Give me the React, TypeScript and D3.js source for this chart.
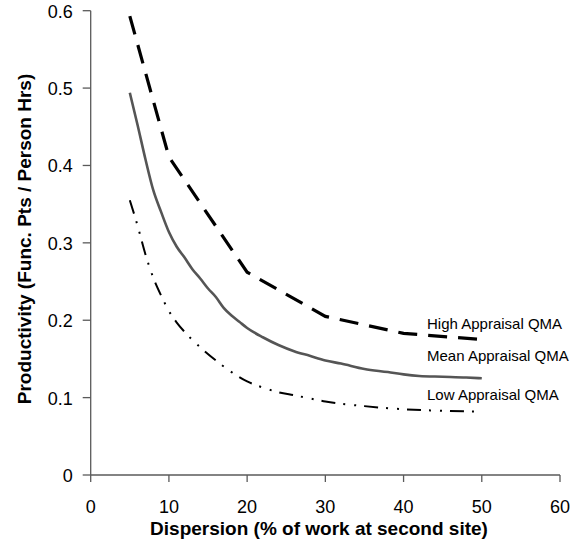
import React from "react";
import * as d3 from "d3";

const xTickValues = [0, 10, 20, 30, 40, 50, 60];
const xTickLabels = ["0", "10", "20", "30", "40", "50", "60"];
const yTickValues = [0, 0.1, 0.2, 0.3, 0.4, 0.5, 0.6];
const yTickLabels = ["0", "0.1", "0.2", "0.3", "0.4", "0.5", "0.6"];

const highX = [5, 10, 20, 30, 40, 50];
const highY = [0.593, 0.411, 0.262, 0.205, 0.183, 0.175];

const meanX = [5, 6, 7, 8, 9, 10, 11, 12, 13, 14, 15, 16, 17, 18, 19, 20, 22, 24, 26, 28, 30, 32, 35, 38, 40, 42, 45, 48, 50];
const meanY = [0.494, 0.452, 0.408, 0.368, 0.34, 0.314, 0.295, 0.281, 0.266, 0.254, 0.241, 0.23, 0.216, 0.206, 0.198, 0.19, 0.178, 0.168, 0.16, 0.154, 0.148, 0.144, 0.137, 0.133, 0.13, 0.128, 0.127, 0.126, 0.125];

const lowX = [5, 6, 7, 8, 9, 10, 11, 12, 14, 16, 18, 20, 22, 24, 26, 28, 30, 35, 40, 45, 50];
const lowY = [0.355, 0.322, 0.285, 0.255, 0.232, 0.212, 0.197, 0.185, 0.165, 0.148, 0.133, 0.121, 0.113, 0.107, 0.103, 0.099, 0.095, 0.089, 0.085, 0.083, 0.082];

const seriesLabels = ["High Appraisal QMA", "Mean Appraisal QMA", "Low Appraisal QMA"];
const labelX = [43, 43, 43];
const labelY = [0.189, 0.147, 0.097];

const xTitle = "Dispersion (% of work at second site)";
const yTitle = "Productivity (Func. Pts / Person Hrs)";

const W = 581;
const H = 541;
const FONT = "Arial, 'Liberation Sans', sans-serif";

export default function App() {
  const x = d3.scaleLinear().domain([0, 60]).range([90.7, 560]);
  const y = d3.scaleLinear().domain([0, 0.6]).range([475, 10.7]);

  const lineLinear = d3
    .line<[number, number]>()
    .x((d) => x(d[0]))
    .y((d) => y(d[1]));
  const lineSmooth = d3
    .line<[number, number]>()
    .x((d) => x(d[0]))
    .y((d) => y(d[1]))
    .curve(d3.curveMonotoneX);

  const high = highX.map((v, i) => [v, highY[i]] as [number, number]);
  const mean = meanX.map((v, i) => [v, meanY[i]] as [number, number]);
  const low = lowX.map((v, i) => [v, lowY[i]] as [number, number]);

  const axisColor = "#5a5a5a";
  const [x0, x1] = x.range();
  const [y0, y1] = y.range();

  return (
    <svg
      width={W}
      height={H}
      style={{ position: "absolute", left: 0, top: 0, background: "#fff" }}
      fontFamily={FONT}
    >
      {/* axes */}
      <line x1={x0} x2={x0} y1={y1} y2={y0} stroke={axisColor} strokeWidth={1.3} />
      <line x1={x0} x2={x1} y1={y0} y2={y0} stroke={axisColor} strokeWidth={1.3} />
      {yTickValues.map((v, i) => (
        <g key={"yt" + i}>
          <line x1={x0 - 8} x2={x0} y1={y(v)} y2={y(v)} stroke={axisColor} strokeWidth={1.3} />
          <text x={x0 - 18} y={y(v) + 7} textAnchor="end" fontSize={18} fill="#000">
            {yTickLabels[i]}
          </text>
        </g>
      ))}
      {xTickValues.map((v, i) => (
        <g key={"xt" + i}>
          <line x1={x(v)} x2={x(v)} y1={y0} y2={y0 + 7} stroke={axisColor} strokeWidth={1.3} />
          <text x={x(v)} y={513} textAnchor="middle" fontSize={18} fill="#000">
            {xTickLabels[i]}
          </text>
        </g>
      ))}

      {/* series */}
      <path
        d={lineLinear(high) || ""}
        fill="none"
        stroke="#000"
        strokeWidth={3.2}
        strokeDasharray="19,11"
      />
      <path d={lineSmooth(mean) || ""} fill="none" stroke="#555" strokeWidth={2.6} />
      <path
        d={lineSmooth(low) || ""}
        fill="none"
        stroke="#000"
        strokeWidth={2}
        strokeDasharray="14,8,2,9,2,8"
      />

      {/* labels */}
      {seriesLabels.map((s, i) => (
        <text key={"lab" + i} x={x(labelX[i])} y={y(labelY[i])} fontSize={15} fill="#000">
          {s}
        </text>
      ))}

      {/* titles */}
      <text x={319} y={535} textAnchor="middle" fontSize={19} fontWeight="bold" fill="#000">
        {xTitle}
      </text>
      <text
        transform={`translate(31,239) rotate(-90)`}
        textAnchor="middle"
        fontSize={19}
        fontWeight="bold"
        fill="#000"
      >
        {yTitle}
      </text>
    </svg>
  );
}
